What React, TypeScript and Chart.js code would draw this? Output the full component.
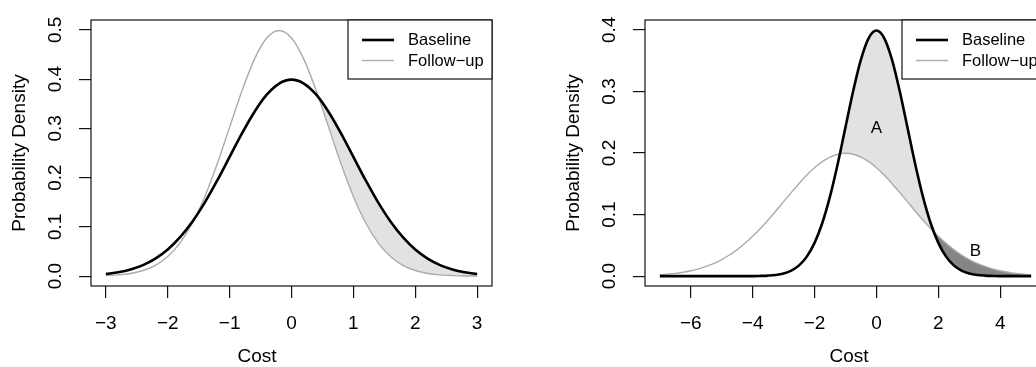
import React, { useEffect, useRef } from "react";
import { Chart, registerables } from "chart.js";

Chart.register(...registerables);

const FONT = "'Liberation Sans', Arial, Helvetica, sans-serif";

// ---------- Left panel data ----------
const leftX = [-3, -2.8, -2.6, -2.4, -2.2, -2, -1.8, -1.6, -1.4, -1.2, -1, -0.8, -0.6, -0.4, -0.2, 0, 0.2, 0.4, 0.6, 0.8, 1, 1.2, 1.4, 1.6, 1.8, 2, 2.2, 2.4, 2.6, 2.8, 3];
const leftBaseline = [0.0044, 0.0079, 0.0136, 0.0224, 0.0355, 0.054, 0.079, 0.1109, 0.1497, 0.1942, 0.242, 0.2897, 0.3332, 0.3683, 0.391, 0.3989, 0.391, 0.3683, 0.3332, 0.2897, 0.242, 0.1942, 0.1497, 0.1109, 0.079, 0.054, 0.0355, 0.0224, 0.0136, 0.0079, 0.0044];
const leftFollowUp = [0.0011, 0.0025, 0.0055, 0.0114, 0.0219, 0.0397, 0.0675, 0.1079, 0.1619, 0.2283, 0.3025, 0.3764, 0.4401, 0.4833, 0.4987, 0.4833, 0.4401, 0.3764, 0.3025, 0.2283, 0.1619, 0.1079, 0.0675, 0.0397, 0.0219, 0.0114, 0.0055, 0.0025, 0.0011, 0.0004, 0.0002];
const leftXTicks = [-3, -2, -1, 0, 1, 2, 3];
const leftYTicks = [0, 0.1, 0.2, 0.3, 0.4, 0.5];
const leftShadeRange = [0, 3];

// ---------- Right panel data ----------
const rightX = [-7, -6.75, -6.5, -6.25, -6, -5.75, -5.5, -5.25, -5, -4.75, -4.5, -4.25, -4, -3.75, -3.5, -3.25, -3, -2.75, -2.5, -2.25, -2, -1.75, -1.5, -1.25, -1, -0.75, -0.5, -0.25, 0, 0.25, 0.5, 0.75, 1, 1.25, 1.5, 1.75, 2, 2.25, 2.5, 2.75, 3, 3.25, 3.5, 3.75, 4, 4.25, 4.5, 4.75, 5];
const rightBaseline = [0, 0, 0, 0, 0, 0, 0, 0, 0, 0, 0, 0.0001, 0.0001, 0.0004, 0.0009, 0.002, 0.0044, 0.0091, 0.0175, 0.0317, 0.054, 0.0863, 0.1295, 0.1826, 0.242, 0.3011, 0.3521, 0.3867, 0.3989, 0.3867, 0.3521, 0.3011, 0.242, 0.1826, 0.1295, 0.0863, 0.054, 0.0317, 0.0175, 0.0091, 0.0044, 0.002, 0.0009, 0.0004, 0.0001, 0.0001, 0, 0, 0];
const rightFollowUp = [0.0022, 0.0032, 0.0045, 0.0064, 0.0088, 0.0119, 0.0159, 0.0209, 0.027, 0.0344, 0.0431, 0.0533, 0.0648, 0.0775, 0.0913, 0.1059, 0.121, 0.136, 0.1506, 0.1641, 0.176, 0.1859, 0.1933, 0.1979, 0.1995, 0.1979, 0.1933, 0.1859, 0.176, 0.1641, 0.1506, 0.136, 0.121, 0.1059, 0.0913, 0.0775, 0.0648, 0.0533, 0.0431, 0.0344, 0.027, 0.0209, 0.0159, 0.0119, 0.0088, 0.0064, 0.0045, 0.0032, 0.0022];
const rightXTicks = [-6, -4, -2, 0, 2, 4];
const rightYTicks = [0, 0.1, 0.2, 0.3, 0.4];
const rightShadeARange = [-2, 2.5];
const rightShadeBRange = [1.5, 5];
const rightLabels = ["A", "B"];
const rightLabelX = [0, 3.2];
const rightLabelY = [0.24, 0.04];

const seriesNames = ["Baseline", "Follow\u2212up"];
const xTitle = "Cost";
const yTitle = "Probability Density";

const BASE_COLOR = "#000000";
const FOLLOW_COLOR = "#ababab";
const SHADE_LIGHT = "#e2e2e2";
const SHADE_DARK = "#858585";

const pts = (xs: number[], ys: number[], range?: number[]) =>
  xs
    .map((x, i) => ({ x, y: ys[i] }))
    .filter((p) => !range || (p.x >= range[0] && p.x <= range[1]));

type PanelCfg = {
  width: number;
  yAxisWidth: number;
  padRight: number;
  xMin: number;
  xMax: number;
  yMin: number;
  yMax: number;
  xTicks: number[];
  yTicks: number[];
  yTitlePad: number;
  xTitleX: number;
  datasets: any[];
  labels?: { text: string; x: number; y: number }[];
};

function buildChart(canvas: HTMLCanvasElement, cfg: PanelCfg) {
  const panelPlugin = {
    id: "panelDecor",
    afterDraw(chart: any) {
      const { ctx, chartArea: a, scales } = chart;
      ctx.save();
      // box
      ctx.strokeStyle = "#111";
      ctx.lineWidth = 1.2;
      ctx.strokeRect(a.left, a.top, a.right - a.left, a.bottom - a.top);
      // rotated y tick labels
      ctx.fillStyle = "#000";
      ctx.font = `19px ${FONT}`;
      ctx.textAlign = "center";
      ctx.textBaseline = "middle";
      for (const v of cfg.yTicks) {
        const y = scales.y.getPixelForValue(v);
        ctx.save();
        ctx.translate(a.left - 35.5, y);
        ctx.rotate(-Math.PI / 2);
        ctx.fillText(v.toFixed(1), 0, 0);
        ctx.restore();
      }
      // x title
      ctx.fillText(xTitle, cfg.xTitleX, 357);
      // legend
      const lw = 144;
      const lh = 59;
      const lx = a.right - lw;
      const ly = a.top;
      ctx.fillStyle = "#fff";
      ctx.fillRect(lx, ly, lw, lh);
      ctx.strokeStyle = "#111";
      ctx.lineWidth = 1.2;
      ctx.strokeRect(lx, ly, lw, lh);
      const rows = [20, 40.5];
      const ds = chart.data.datasets;
      for (let i = 0; i < 2; i++) {
        ctx.beginPath();
        ctx.strokeStyle = ds[i].borderColor;
        ctx.lineWidth = ds[i].borderWidth;
        ctx.moveTo(lx + 14, ly + rows[i]);
        ctx.lineTo(lx + 46, ly + rows[i]);
        ctx.stroke();
        ctx.fillStyle = "#000";
        ctx.font = `16.5px ${FONT}`;
        ctx.textAlign = "left";
        ctx.fillText(ds[i].label, lx + 60, ly + rows[i] + 0.5);
      }
      // annotations
      if (cfg.labels) {
        ctx.font = `17px ${FONT}`;
        ctx.textAlign = "center";
        ctx.fillStyle = "#000";
        for (const l of cfg.labels) {
          ctx.fillText(l.text, scales.x.getPixelForValue(l.x), scales.y.getPixelForValue(l.y));
        }
      }
      ctx.restore();
    },
  };

  return new Chart(canvas, {
    type: "line",
    data: { datasets: cfg.datasets },
    options: {
      animation: false,
      responsive: false,
      devicePixelRatio: 1,
      layout: { padding: { left: 0, top: 20, right: cfg.padRight, bottom: 0 } },
      plugins: { legend: { display: false }, tooltip: { enabled: false } },
      elements: { point: { radius: 0 } },
      scales: {
        x: {
          type: "linear",
          min: cfg.xMin,
          max: cfg.xMax,
          afterBuildTicks: (s: any) => {
            s.ticks = cfg.xTicks.map((v) => ({ value: v }));
          },
          afterFit: (s: any) => {
            s.height = 81;
          },
          border: { display: false },
          grid: { drawOnChartArea: false, drawTicks: true, tickLength: 12, color: "#111", lineWidth: 1.2 },
          ticks: {
            autoSkip: false,
            maxRotation: 0,
            padding: 14.6,
            color: "#000",
            font: { family: FONT, size: 19 },
            callback: (v: any) => String(v).replace("-", "\u2212"),
          },
        },
        y: {
          type: "linear",
          min: cfg.yMin,
          max: cfg.yMax,
          afterBuildTicks: (s: any) => {
            s.ticks = cfg.yTicks.map((v) => ({ value: v }));
          },
          afterFit: (s: any) => {
            s.width = cfg.yAxisWidth;
          },
          border: { display: false },
          grid: { drawOnChartArea: false, drawTicks: true, tickLength: 12, color: "#111", lineWidth: 1.2 },
          ticks: { color: "rgba(0,0,0,0)", font: { family: FONT, size: 19 } },
          title: {
            display: true,
            text: yTitle,
            color: "#000",
            font: { family: FONT, size: 19 },
            padding: { top: cfg.yTitlePad, bottom: 0 },
          },
        },
      },
    },
    plugins: [panelPlugin],
  } as any);
}

const lineDs = (label: string, data: any[], color: string, width: number) => ({
  label,
  data,
  borderColor: color,
  borderWidth: width,
  pointRadius: 0,
  fill: false,
  cubicInterpolationMode: "monotone",
});

const shadeDs = (data: any[], target: number, color: string) => ({
  label: "shade",
  data,
  borderWidth: 0,
  borderColor: "rgba(0,0,0,0)",
  pointRadius: 0,
  cubicInterpolationMode: "monotone",
  fill: { target, above: color, below: "rgba(0,0,0,0)" },
});

export default function App() {
  const leftRef = useRef<HTMLCanvasElement>(null);
  const rightRef = useRef<HTMLCanvasElement>(null);

  useEffect(() => {
    const left = buildChart(leftRef.current!, {
      width: 520,
      yAxisWidth: 91,
      padRight: 28,
      xMin: -3.24,
      xMax: 3.24,
      yMin: -0.02,
      yMax: 0.52,
      xTicks: leftXTicks,
      yTicks: leftYTicks,
      yTitlePad: 8.6,
      xTitleX: 257,
      datasets: [
        lineDs(seriesNames[0], pts(leftX, leftBaseline), BASE_COLOR, 2.6),
        lineDs(seriesNames[1], pts(leftX, leftFollowUp), FOLLOW_COLOR, 1.4),
        shadeDs(pts(leftX, leftBaseline, leftShadeRange), 1, SHADE_LIGHT),
      ],
    });
    const right = buildChart(rightRef.current!, {
      width: 540,
      yAxisWidth: 125,
      padRight: 14,
      xMin: -7.48,
      xMax: 5.48,
      yMin: -0.016,
      yMax: 0.416,
      xTicks: rightXTicks,
      yTicks: rightYTicks,
      yTitlePad: 42,
      xTitleX: 329,
      datasets: [
        lineDs(seriesNames[0], pts(rightX, rightBaseline), BASE_COLOR, 2.6),
        lineDs(seriesNames[1], pts(rightX, rightFollowUp), FOLLOW_COLOR, 1.4),
        shadeDs(pts(rightX, rightBaseline, rightShadeARange), 1, SHADE_LIGHT),
        shadeDs(pts(rightX, rightFollowUp, rightShadeBRange), 0, SHADE_DARK),
      ],
      labels: rightLabels.map((t, i) => ({ text: t, x: rightLabelX[i], y: rightLabelY[i] })),
    });
    return () => {
      left.destroy();
      right.destroy();
    };
  }, []);

  return (
    <div
      style={{
        position: "fixed",
        left: 0,
        top: 0,
        width: 1036,
        height: 367,
        overflow: "hidden",
        background: "#fff",
      }}
    >
      <canvas ref={leftRef} width={520} height={367} style={{ position: "absolute", left: 0, top: 0 }} />
      <canvas ref={rightRef} width={540} height={367} style={{ position: "absolute", left: 520, top: 0 }} />
    </div>
  );
}
